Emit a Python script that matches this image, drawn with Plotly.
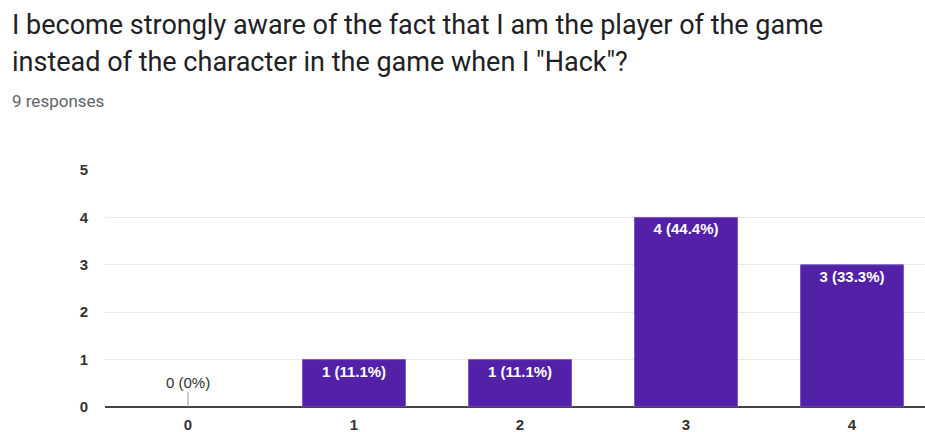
import plotly.graph_objects as go

# Survey response data
categories = [0, 1, 2, 3, 4]
counts = [0, 1, 1, 4, 3]
total_responses = 9
title_lines = [
    "I become strongly aware of the fact that I am the player of the game",
    "instead of the character in the game when I \"Hack\"?",
]
subtitle = f"{total_responses} responses"

labels = [f"{c} ({c / total_responses * 100:.1f}%)" if c else "0 (0%)" for c in counts]

W, H = 925, 432
L, R, T, B = 105, 0, 170, 25
plot_w = W - L - R
plot_h = H - T - B


def px_x(px):
    return (px - L) / plot_w


def px_y(py):
    return (H - B - py) / plot_h


fig = go.Figure()

bar_text = [lab if c > 0 else "" for lab, c in zip(labels, counts)]
edge_colors = ["#7a56c4" if c > 0 else "rgba(0,0,0,0)" for c in counts]
fig.add_trace(go.Bar(
    x=categories,
    y=counts,
    width=0.62,
    marker=dict(color="#5221a8", line=dict(color=edge_colors, width=1)),
    text=bar_text,
    textposition="inside",
    insidetextanchor="end",
    textangle=0,
    textfont=dict(family="Liberation Sans, Arial", size=15, color="white", weight="bold"),
    hoverinfo="skip",
    cliponaxis=False,
))

# zero-value bars get a stub line with their label above
for cat, c, lab in zip(categories, counts, labels):
    if c == 0:
        fig.add_annotation(
            x=cat, y=c, xref="x", yref="y",
            text=lab, showarrow=True, arrowhead=0, arrowwidth=1,
            arrowcolor="#999999", ax=0, ay=-25, standoff=0,
            font=dict(family="Liberation Sans, Arial", size=15, color="#333333"),
        )

for i, line in enumerate(title_lines):
    fig.add_annotation(
        x=px_x(10), y=px_y(25 + i * 37), xref="paper", yref="paper",
        xanchor="left", yanchor="middle", showarrow=False,
        text=line, font=dict(family="Roboto", size=27, color="#202124"),
    )
fig.add_annotation(
    x=px_x(10), y=px_y(101), xref="paper", yref="paper",
    xanchor="left", yanchor="middle", showarrow=False,
    text=subtitle, font=dict(family="Roboto", size=17, color="#5f6368"),
)

tick_font = dict(family="Liberation Sans, Arial", size=15, color="#333333", weight="bold")

fig.update_layout(
    width=W, height=H,
    margin=dict(l=L, r=R, t=T, b=B),
    paper_bgcolor="white", plot_bgcolor="white",
    showlegend=False,
    xaxis=dict(
        range=[-0.5, (plot_w / 166) - 0.5],
        tickmode="array", tickvals=categories, ticktext=[str(c) for c in categories],
        showgrid=False, zeroline=False, showline=False, ticks="",
        ticklabelstandoff=7,
        tickfont=tick_font,
    ),
    yaxis=dict(
        range=[0, 5], dtick=1,
        showgrid=True, gridcolor="#e8e8e8", gridwidth=1,
        zeroline=True, zerolinecolor="#444444", zerolinewidth=2,
        showline=False, ticks="", ticklabelstandoff=16,
        tickfont=tick_font,
    ),
)

fig.write_html("out.html")
